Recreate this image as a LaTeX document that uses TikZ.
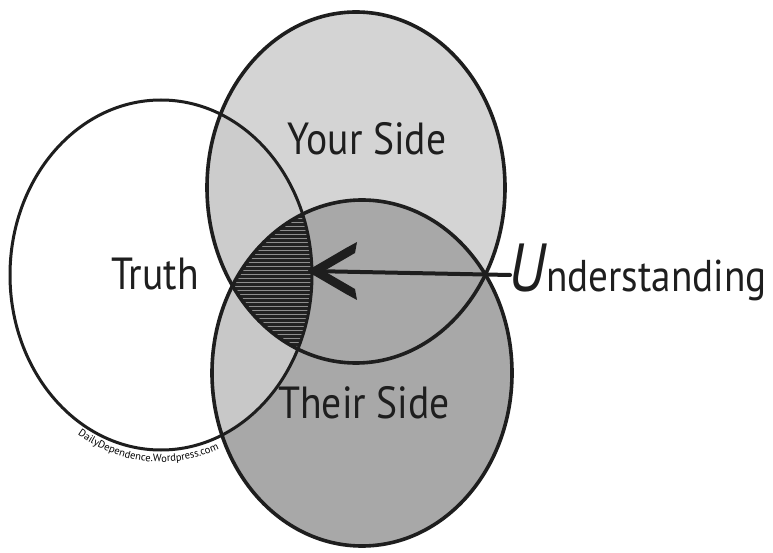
\documentclass[tikz,border=0pt]{standalone}
\usepackage{fontspec}
\setmainfont{PT Sans}
\newfontfamily\hand[FakeStretch=0.88]{PT Sans}
\newfontfamily\plainhand{PT Sans}
\usetikzlibrary{decorations.text}
\definecolor{yourgray}{HTML}{D4D4D4}
\definecolor{theirgray}{HTML}{A8A8A8}
\definecolor{truththeir}{HTML}{C8C8C8}
\definecolor{truthyour}{HTML}{CCCCCC}
\definecolor{hatchdark}{HTML}{222222}
\definecolor{hatchlight}{HTML}{8E8E8E}
\definecolor{ink}{HTML}{1E1E1E}
\tikzset{
  outline/.style={draw=ink, line width=3.6pt},
  lbl/.style={font=\hand\fontsize{45}{45}\selectfont, text=ink, inner sep=0pt},
  hatchline/.style={draw=hatchlight, line width=0.9pt},
  shaft/.style={draw=ink, line width=4pt, line cap=round},
  barb/.style={fill=ink},
}
\def\truthpath{(tc) ellipse [x radius=151, y radius=175]}
\def\yourpath{(yc) ellipse [x radius=149, y radius=175.5]}
\def\theirpath{(hc) ellipse [x radius=150, y radius=173]}
\begin{document}
\begin{tikzpicture}[x=1pt,y=1pt]
\useasboundingbox (0,0) rectangle (773,552);
\fill[white] (0,0) rectangle (773,552);
\coordinate (tc) at (161,277);
\coordinate (yc) at (356,364.5);
\coordinate (hc) at (362,179);
% fills
\fill[yourgray] \yourpath;
\fill[theirgray] \theirpath;
\begin{scope}
  \clip \truthpath;
  \fill[truththeir] \theirpath;
  \fill[truthyour] \yourpath;
  \begin{scope}
    \clip \yourpath;
    \fill[hatchdark] \theirpath;
    \clip \theirpath;
    \foreach \yy in {206,210,...,342} {\draw[hatchline] (220,\yy) -- (320,\yy);}
  \end{scope}
\end{scope}
% outlines
\draw[outline, line width=3pt] \truthpath;
\draw[outline] \yourpath;
\draw[outline] \theirpath;
% arrow
\coordinate (ustart) at (510,277);
\coordinate (utip) at (310,281);
\draw[shaft] (ustart) -- (utip);
\begin{scope}[shift={(utip)}]
  \fill[barb] (0,2) -- (36,23) -- (47,29) -- (45,18) -- (14,0) -- cycle;
  \fill[barb] (0,-2) -- (36,-23) -- (47,-29) -- (45,-18) -- (14,0) -- cycle;
\end{scope}
% labels
\node[lbl, anchor=base] (your) at (367,397) {Your Side};
\node[lbl, anchor=base] (truth) at (155,262) {Truth};
\node[lbl, anchor=base] (their) at (364,134) {Their Side};
\node[lbl, anchor=base west, font=\hand\fontsize{44.5}{44.5}\selectfont] (und) at (546,260) {nderstanding};
\node[lbl, anchor=base east, font=\hand\itshape\fontsize{68}{68}\selectfont] (uu) at (und.base west) {U};
% watermark
\path[decorate, decoration={text along path, text align=center,
  text={|\plainhand\fontsize{10.5}{10.5}\selectfont|DailyDependence.Wordpress.com}}]
  (69.2,123.8) arc[start angle=235, end angle=295, x radius=160, y radius=187];
\end{tikzpicture}
\end{document}
